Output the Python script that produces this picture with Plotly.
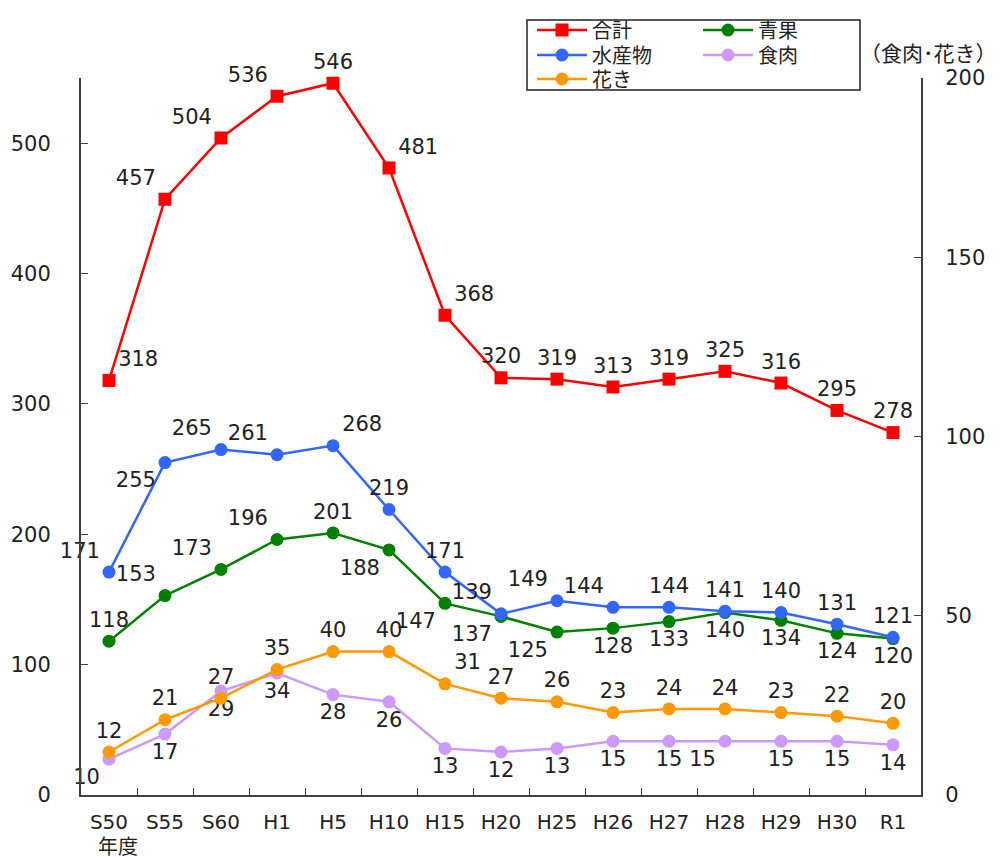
import plotly.graph_objects as go

categories = ["S50", "S55", "S60", "H1", "H5", "H10", "H15", "H20", "H25", "H26", "H27", "H28", "H29", "H30", "R1"]
total = [318, 457, 504, 536, 546, 481, 368, 320, 319, 313, 319, 325, 316, 295, 278]
fruits_veg = [118, 153, 173, 196, 201, 188, 147, 137, 125, 128, 133, 140, 134, 124, 120]
seafood = [171, 255, 265, 261, 268, 219, 171, 139, 149, 144, 144, 141, 140, 131, 121]
meat = [10, 17, 29, 34, 28, 26, 13, 12, 13, 15, 15, 15, 15, 15, 14]
flowers = [12, 21, 27, 35, 40, 40, 31, 27, 26, 23, 24, 24, 23, 22, 20]

pos_total = ["top right", "top left", "top left", "top left", "top center", "top right", "top right"] + ["top center"] * 8
pos_seafood = ["top left", "bottom left", "top left", "top left", "top right", "top center", "top center",
               "top left", "top left", "top left", "top center", "top center", "top center", "top center", "top center"]
pos_fv = ["top center", "top left", "top left", "top left", "top center", "bottom left", "bottom left",
          "bottom left", "bottom left", "bottom center", "bottom center", "bottom center", "bottom center", "bottom center", "bottom center"]
pos_flowers = ["top center"] * 6 + ["top right"] + ["top center"] * 8
pos_meat = ["bottom left"] + ["bottom center"] * 10 + ["bottom left"] + ["bottom center"] * 3

FONT = "DejaVu Sans, Noto Sans CJK JP"
CJK = "Noto Sans CJK JP"
TXT = dict(family=FONT, size=21, color="#222222")

L, R, T, B = 81, 79, 78, 62
W, H = 1000, 857
pw, ph = W - L - R, H - T - B

def px(xp):
    return (xp - L) / pw

def py(yp):
    return (H - B - yp) / ph

legend_slots = {
    "legend": (532, 30),   # 合計
    "legend2": (698, 30),  # 青果
    "legend3": (532, 55),  # 水産物
    "legend4": (698, 55),  # 食肉
    "legend5": (532, 79),  # 花き
}

fig = go.Figure()

def add(name, y, color, symbol, pos, axis, legend):
    fig.add_trace(go.Scatter(
        x=categories, y=y, name=name, mode="lines+markers+text",
        line=dict(color=color, width=2.5),
        marker=dict(color=color, symbol=symbol, size=13),
        text=[str(v) for v in y], textposition=pos, textfont=TXT,
        cliponaxis=False, yaxis=axis, legend=legend,
    ))

add("青果", fruits_veg, "#008000", "circle", pos_fv, "y", "legend2")
add("水産物", seafood, "#3366FF", "circle", pos_seafood, "y", "legend3")
add("合計", total, "#FF0000", "square", pos_total, "y", "legend")
add("食肉", meat, "#CC99FF", "circle", pos_meat, "y2", "legend4")
add("花き", flowers, "#FF9900", "circle", pos_flowers, "y2", "legend5")

legend_common = dict(bgcolor="rgba(0,0,0,0)", borderwidth=0, font=dict(family=CJK, size=20, color="#222222"),
                     itemwidth=50, xanchor="left", yanchor="middle")
legends = {k: dict(x=px(v[0]), y=py(v[1]), **legend_common) for k, v in legend_slots.items()}

fig.update_layout(
    width=W, height=H,
    margin=dict(l=L, r=R, t=T, b=B, autoexpand=False),
    paper_bgcolor="white", plot_bgcolor="white",
    font=dict(family=FONT, size=21, color="#222222"),
    showlegend=True,
    **legends,
    xaxis=dict(type="category", showgrid=False, showline=True, linecolor="#404040", linewidth=2,
               ticks="inside", ticklen=7, tickcolor="#404040", tickson="boundaries",
               tickfont=dict(family=FONT, size=20, color="#222222"), ticklabelstandoff=8,
               range=[-0.5, 14.5]),
    yaxis=dict(range=[0, 550], tickvals=[0, 100, 200, 300, 400, 500], showgrid=False, zeroline=False,
               showline=True, linecolor="#404040", linewidth=2, ticks="inside", ticklen=7, tickcolor="#404040",
               tickfont=dict(family=FONT, size=21, color="#222222"), ticklabelstandoff=24),
    yaxis2=dict(range=[0, 200], tickvals=[0, 50, 100, 150, 200], overlaying="y", side="right", showgrid=False,
                zeroline=False, showline=True, linecolor="#404040", linewidth=2, ticks="inside", ticklen=7,
                tickcolor="#404040", tickfont=dict(family=FONT, size=21, color="#222222"), ticklabelstandoff=18),
    shapes=[dict(type="rect", xref="paper", yref="paper", x0=px(527), x1=px(860), y0=py(90), y1=py(20),
                 line=dict(color="#222222", width=1.5), fillcolor="rgba(0,0,0,0)")],
    annotations=[
        dict(text="年度", xref="paper", yref="paper", x=px(118), y=py(845), xanchor="center", yanchor="middle",
             showarrow=False, font=dict(family=CJK, size=20, color="#222222")),
        dict(text="（食肉･花き）", xref="paper", yref="paper", x=px(999), y=py(52), xanchor="right",
             yanchor="middle", showarrow=False, font=dict(family=CJK, size=21, color="#222222")),
    ],
)

fig.write_html("out.html", config={"displayModeBar": False},
               post_script="document.body.style.margin='0';document.body.style.overflow='hidden';")
